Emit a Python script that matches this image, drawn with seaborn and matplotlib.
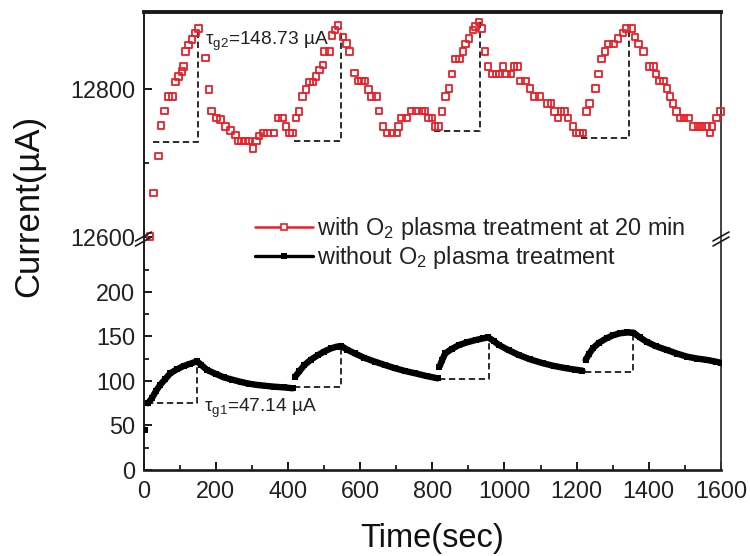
import matplotlib
matplotlib.use("Agg")
import matplotlib.pyplot as plt
from matplotlib.lines import Line2D
from matplotlib.ticker import MultipleLocator, FixedLocator
import pandas as pd
import seaborn as sns

# ---------------- data ----------------
# Current with O2 plasma treatment (upper panel), time in s, current in uA
t_o2 = [18, 27, 41, 49, 58, 69, 81, 88, 97, 107, 111, 116, 125, 134, 144, 153,
        172, 181, 188, 202, 213, 227, 241, 255, 262, 272, 283, 292, 303, 313,
        320, 332, 344, 362, 372, 385, 395, 404, 413, 423, 431, 441, 450, 460,
        469, 478, 487, 497, 501, 515, 522, 530, 539, 553, 562, 571, 585, 595,
        604, 613, 623, 632, 646, 653, 664, 674, 688, 702, 706, 715, 729, 743,
        757, 771, 780, 790, 799, 808, 818, 827, 836, 846, 855, 864, 875, 885,
        892, 902, 913, 920, 929, 937, 946, 955, 967, 976, 985, 996, 1006, 1018,
        1027, 1036, 1045, 1059, 1071, 1083, 1097, 1120, 1129, 1139, 1148, 1157,
        1167, 1176, 1190, 1199, 1208, 1218, 1227, 1236, 1253, 1260, 1269, 1278,
        1288, 1302, 1315, 1329, 1338, 1352, 1362, 1371, 1385, 1402, 1413, 1420,
        1430, 1441, 1450, 1459, 1467, 1476, 1487, 1498, 1510, 1524, 1536, 1548,
        1560, 1569, 1575, 1588, 1599]
i_o2 = [12601, 12660, 12710, 12751, 12771, 12790, 12790, 12810, 12817, 12824,
        12831, 12851, 12860, 12867, 12876, 12882, 12842, 12800, 12771, 12761,
        12759, 12750, 12744, 12738, 12730, 12730, 12730, 12730, 12720, 12730,
        12737, 12741, 12741, 12741, 12761, 12761, 12750, 12741, 12741, 12761,
        12770, 12790, 12800, 12810, 12810, 12817, 12826, 12833, 12851, 12851,
        12873, 12880, 12886, 12871, 12862, 12851, 12822, 12811, 12811, 12811,
        12800, 12790, 12790, 12771, 12750, 12741, 12741, 12741, 12750, 12761,
        12761, 12771, 12771, 12771, 12771, 12761, 12761, 12750, 12750, 12770,
        12790, 12801, 12821, 12841, 12841, 12851, 12861, 12869, 12880, 12885,
        12891, 12882, 12851, 12831, 12821, 12821, 12821, 12831, 12821, 12821,
        12831, 12831, 12811, 12811, 12801, 12790, 12790, 12781, 12781, 12770,
        12761, 12770, 12770, 12761, 12750, 12741, 12741, 12741, 12770, 12781,
        12801, 12821, 12841, 12851, 12861, 12861, 12869, 12876, 12882, 12882,
        12871, 12861, 12851, 12831, 12831, 12821, 12811, 12811, 12801, 12790,
        12781, 12770, 12761, 12761, 12761, 12750, 12750, 12750, 12750, 12741,
        12750, 12761, 12770]

# Current without O2 plasma treatment (lower panel), one list per gas cycle
t_bare_0 = [5]
i_bare_0 = [45]
t_bare_1 = [12, 23, 35, 46, 60, 74, 92, 111, 130, 148, 160, 176, 200, 223, 246,
            269, 292, 316, 340, 362, 390, 413]
i_bare_1 = [75, 80.5, 89, 95.5, 102, 108.6, 113, 116.8, 119.5, 122.1, 118,
            112.4, 108, 104, 101.5, 99, 97, 95.5, 94.5, 93.6, 92.8, 91.8]
t_bare_2 = [420, 432, 446, 464, 483, 500, 520, 535, 548, 565, 585, 612, 641,
            670, 697, 725, 753, 785, 815]
i_bare_2 = [104.8, 111, 118, 124, 129, 133, 136.7, 138.5, 139.3, 135, 131, 126,
            121.7, 117.8, 114.3, 111.2, 108.6, 105.5, 103]
t_bare_3 = [820, 828, 836, 854, 874, 897, 920, 940, 955, 970, 985, 1012, 1041,
            1072, 1106, 1138, 1171, 1195, 1216]
i_bare_3 = [116, 124, 131, 136, 140.4, 143.5, 146, 147.8, 149, 145, 140.4,
            134.5, 129, 124.2, 120, 116.8, 114.3, 112.8, 111.6]
t_bare_4 = [1225, 1234, 1245, 1262, 1283, 1300, 1320, 1340, 1357, 1375, 1394,
            1420, 1450, 1478, 1506, 1534, 1562, 1585, 1600]
i_bare_4 = [123.6, 130, 136.7, 143, 148, 151.2, 153.6, 154.5, 154.3, 149, 144,
            139, 134.8, 130.8, 127.3, 125.2, 123.6, 121.8, 120.3]

# response amplitudes quoted on the plot
tau_g1 = 47.14
tau_g2 = 148.73

# dashed response guides: start time, peak time, baseline, peak level
guide_t0_bare = [9, 418, 818, 1222]
guide_t1_bare = [148, 548, 957, 1357]
guide_base_bare = [75.0, 93.6, 102.0, 110.5]
guide_top_bare = [75.0 + tau_g1, 139.0, 149.0, 154.0]

guide_t0_o2 = [26, 418, 804, 1213]
guide_t1_o2 = [152, 546, 932, 1346]
guide_base_o2 = [12729, 12730, 12743, 12734]
guide_top_o2 = [12729 + tau_g2, 12884, 12893, 12884]

label_o2 = "with O$_2$ plasma treatment at 20 min"
label_bare = "without O$_2$ plasma treatment"

# ---------------- style ----------------
sns.set_theme(style="ticks")
plt.rcParams["font.family"] = ["Liberation Sans", "DejaVu Sans"]
plt.rcParams["mathtext.fontset"] = "custom"
plt.rcParams["mathtext.rm"] = "Liberation Sans"
plt.rcParams["mathtext.it"] = "Liberation Sans:italic"
plt.rcParams["mathtext.bf"] = "Liberation Sans:bold"

RED = "#e8202a"
INK = "#1a1a1a"
TICK_FS = 16.8

frames = []
for k, (tt, ii) in enumerate([(t_bare_0, i_bare_0), (t_bare_1, i_bare_1),
                              (t_bare_2, i_bare_2), (t_bare_3, i_bare_3),
                              (t_bare_4, i_bare_4)]):
    frames.append(pd.DataFrame({"t": tt, "i": ii, "cycle": k}))
df_bare = pd.concat(frames, ignore_index=True)
df_o2 = pd.DataFrame({"t": t_o2, "i": i_o2})

fig = plt.figure(figsize=(7.5, 5.56), dpi=100)
L, W = 143.5 / 750, (721 - 143.5) / 750
ax_top = fig.add_axes([L, 1 - 238 / 556, W, 226 / 556])
ax_bot = fig.add_axes([L, 1 - 470 / 556, W, 230 / 556])

# upper panel: O2-treated sample
sns.scatterplot(data=df_o2, x="t", y="i", ax=ax_top, marker="s", s=22,
                facecolor="none", edgecolor=RED, linewidth=1.3, legend=False,
                clip_on=False, zorder=3)
for t0, t1, b, p in zip(guide_t0_o2, guide_t1_o2, guide_base_o2, guide_top_o2):
    ax_top.plot([t0, t1, t1], [b, b, p], color=INK, lw=1.3, dashes=(3.5, 2),
                zorder=2)

# lower panel: untreated sample
sns.lineplot(data=df_bare, x="t", y="i", units="cycle", estimator=None,
             sort=False, ax=ax_bot, color="black", lw=4.6, marker="s",
             markersize=4.8, markeredgewidth=0, legend=False, zorder=3)
for t0, t1, b, p in zip(guide_t0_bare, guide_t1_bare, guide_base_bare,
                        guide_top_bare):
    ax_bot.plot([t0, t1, t1], [b, b, p], color=INK, lw=1.3, dashes=(3.5, 2),
                zorder=2)

ax_top.text(171, 12860, "τ$_{\\mathrm{g2}}$=148.73 µA", fontsize=13.8,
            color="#222222", va="baseline", ha="left")
ax_bot.text(167, 65.5, "τ$_{\\mathrm{g1}}$=47.14 µA", fontsize=13.8,
            color="#222222", va="baseline", ha="left")

# axes limits and ticks
for ax in (ax_top, ax_bot):
    ax.set_xlim(0, 1600)
    ax.set_xlabel("")
    ax.set_ylabel("")
    ax.set_facecolor("none")
    ax.tick_params(axis="both", which="both", direction="in", colors=INK,
                   labelsize=TICK_FS, labelcolor="#222222")
    ax.tick_params(which="major", length=6, width=1.4, pad=6)
    ax.tick_params(which="minor", length=3.5, width=1.3)
    ax.spines["left"].set_linewidth(1.4)
    ax.spines["right"].set_linewidth(1.3)
    ax.spines["right"].set_color("#333333")
    ax.spines["left"].set_color(INK)

ax_top.set_ylim(12599, 12904.5)
ax_top.yaxis.set_major_locator(FixedLocator([12600, 12800]))
ax_top.yaxis.set_minor_locator(FixedLocator([12700]))
ax_top.set_xticks([])
ax_top.spines["bottom"].set_visible(False)
ax_top.spines["top"].set_linewidth(2.8)
ax_top.spines["top"].set_color(INK)

ax_bot.set_ylim(0, 258.4)
ax_bot.yaxis.set_major_locator(FixedLocator([0, 50, 100, 150, 200]))
ax_bot.yaxis.set_minor_locator(FixedLocator([25, 75, 125, 175, 225]))
ax_bot.xaxis.set_major_locator(MultipleLocator(200))
ax_bot.xaxis.set_minor_locator(MultipleLocator(100))
ax_bot.spines["top"].set_visible(False)
ax_bot.spines["bottom"].set_linewidth(1.9)
ax_bot.spines["bottom"].set_color(INK)
ax_bot.tick_params(axis="x", pad=7)

# axis titles
fig.text(432 / 750, 1 - 538 / 556, "Time(sec)", fontsize=23.5, ha="center",
         va="center", color="#111111")
fig.text(29 / 750, 1 - 206 / 556, "Current(µA)", fontsize=25, rotation=90,
         ha="center", va="center", color="#111111")

# axis-break marks on both vertical spines
for xp in (143.5, 721):
    for dy in (-2.5, 2.5):
        y0 = 239 + dy
        fig.add_artist(Line2D([(xp - 8) / 750, (xp + 8) / 750],
                              [1 - (y0 + 4.5) / 556, 1 - (y0 - 4.5) / 556],
                              transform=fig.transFigure, color=INK, lw=1.2))

# legend
handles = [Line2D([], [], color=RED, lw=1.8, marker="s", markersize=5,
                  markerfacecolor="white", markeredgecolor=RED,
                  markeredgewidth=1.2),
           Line2D([], [], color="black", lw=2.4, marker="s", markersize=5,
                  markeredgewidth=0)]
fig.legend(handles, [label_o2, label_bare], loc="center left",
           bbox_to_anchor=(255 / 750, 1 - 243 / 556), frameon=False,
           fontsize=16.9, borderpad=0, borderaxespad=0, handlelength=2.45,
           handletextpad=0.2, labelspacing=0.08, labelcolor="#222222")

fig.savefig("out.png", dpi=100)
